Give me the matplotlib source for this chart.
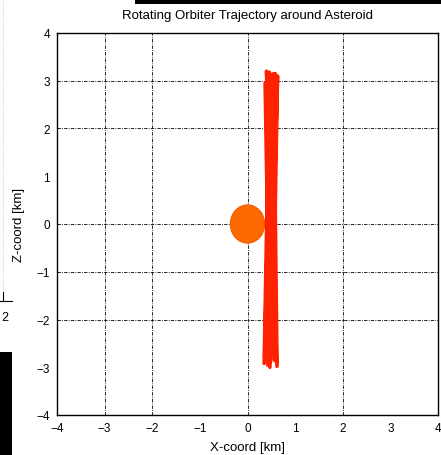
import matplotlib
matplotlib.use('Agg')
import matplotlib.pyplot as plt
from matplotlib.patches import Ellipse, Rectangle
from matplotlib.lines import Line2D

# orbiter trajectory (rotating frame), km
traj_x = [0.43, 0.58, 0.36, 0.49, 0.61, 0.40, 0.53, 0.63, 0.47, 0.37, 0.56, 0.50,
          0.42, 0.60, 0.35, 0.46, 0.59, 0.52, 0.39, 0.44, 0.62, 0.55, 0.48, 0.41]
traj_z = [-2.95, 3.15, -2.80, 3.05, -2.90, 3.20, -2.70, 3.10, -3.00, 2.95, -2.85, 3.12,
          -2.60, 3.00, -2.92, 3.18, -2.75, 3.08, -2.88, 3.00, -2.98, 3.15, -2.90, 3.10]

# asteroid body
ast_center = (0.0, 0.0)
ast_width = 0.72
ast_height = 0.80

ticks = [-4, -3, -2, -1, 0, 1, 2, 3, 4]
xgrid = [-3, -2, 0, 2]
zgrid = [3, 2, 0, -1, -2]

plt.rcParams['font.family'] = ['Liberation Sans', 'DejaVu Sans']

fig = plt.figure(figsize=(4.41, 4.56), dpi=100)
ax = fig.add_axes([57 / 441, 1 - 416 / 456, 381 / 441, 382 / 456])

for gx in xgrid:
    ax.axvline(gx, color='k', lw=0.6, dashes=(4, 1.5, 1, 1.5), zorder=0)
for gz in zgrid:
    ax.axhline(gz, color='k', lw=0.6, dashes=(4, 1.5, 1, 1.5), zorder=0)

ax.add_patch(Ellipse(ast_center, ast_width, ast_height, facecolor='#ff6a00',
                     edgecolor='#f05800', lw=0.8, zorder=2))
ax.plot(traj_x, traj_z, color='#ff2200', lw=2.6, zorder=3)

ax.set_xlim(-4, 4)
ax.set_ylim(-4, 4)
ax.set_xticks(ticks)
ax.set_yticks(ticks)
ax.tick_params(length=0, labelsize=8.5, pad=5)
for s in ax.spines.values():
    s.set_linewidth(1.0)

ax.set_title('Rotating Orbiter Trajectory around Asteroid', fontsize=9.5, pad=11)
ax.set_xlabel('X-coord [km]', fontsize=9.5, labelpad=5)
ax.set_ylabel('Z-coord [km]', fontsize=9.5, labelpad=8)

# screenshot leftovers around the plot
fig.add_artist(Rectangle((135 / 441, 1 - 5 / 456), 306 / 441, 5 / 456,
                         transform=fig.transFigure, color='k', lw=0))
fig.add_artist(Rectangle((0, 0), 12 / 441, 103 / 456,
                         transform=fig.transFigure, color='k', lw=0))
fig.add_artist(Line2D([3 / 441, 3 / 441], [1, 1 - 300 / 456], transform=fig.transFigure,
                      color='#bbbbbb', lw=0.6, ls=':'))
fig.add_artist(Line2D([0, 12 / 441], [1 - 302 / 456, 1 - 302 / 456], transform=fig.transFigure,
                      color='k', lw=0.8))
fig.add_artist(Line2D([3 / 441, 3 / 441], [1 - 293 / 456, 1 - 302 / 456], transform=fig.transFigure,
                      color='k', lw=0.8))
fig.text(5 / 441, 1 - 318 / 456, '2', fontsize=9, ha='center', va='center')

fig.savefig('out.png', dpi=100)
